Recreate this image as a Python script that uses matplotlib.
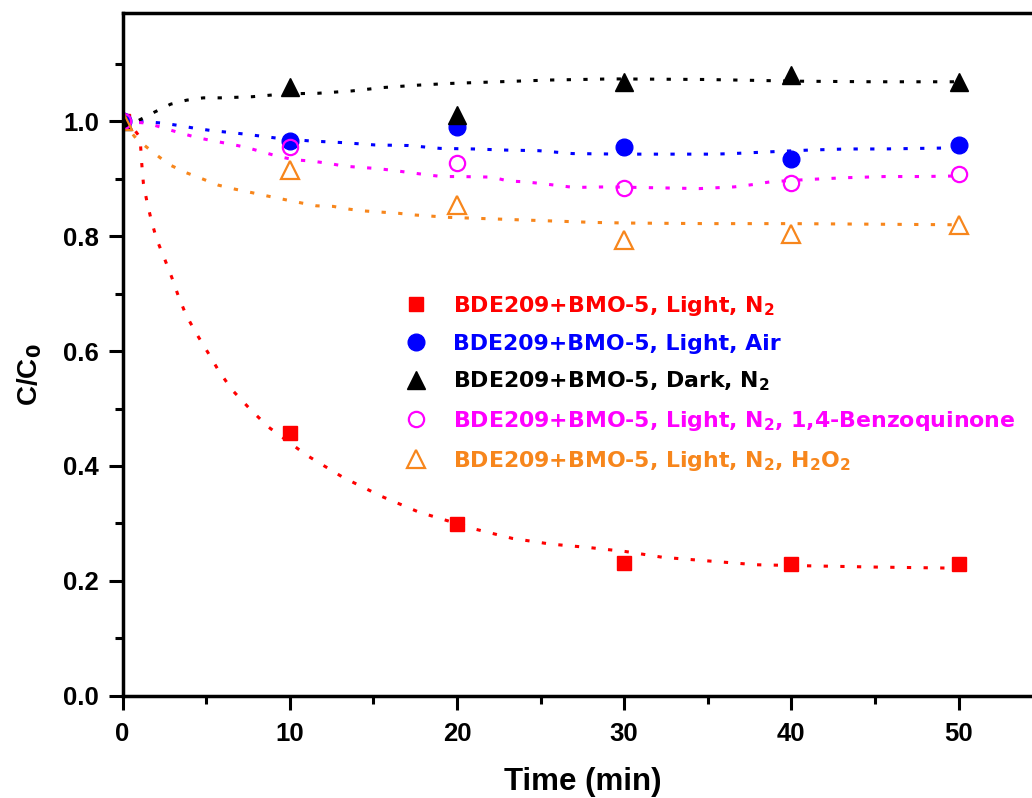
import matplotlib
matplotlib.use('Agg')
import matplotlib.pyplot as plt
from matplotlib.ticker import MultipleLocator

# ---------------- data ----------------
time_min = [0, 10, 20, 30, 40, 50]
light_n2 = [1.0, 0.457, 0.299, 0.231, 0.229, 0.229]
light_air = [1.0, 0.966, 0.991, 0.956, 0.934, 0.959]
dark_n2 = [1.0, 1.060, 1.011, 1.068, 1.081, 1.069]
light_n2_bq = [1.0, 0.955, 0.927, 0.884, 0.892, 0.908]
light_n2_h2o2 = [1.0, 0.916, 0.855, 0.793, 0.804, 0.820]

# fitted (dotted) curves
fit_t_light_n2 = [0, 0.6, 1.05, 1.15, 1.25, 1.45, 1.72, 2.04, 2.5, 2.94, 3.34, 3.8, 4.41, 5.1, 5.77,
                  6.57, 7.63, 8.72, 11.0, 13.2, 15.5, 17.7, 21.1, 23.3, 25.6, 27.9, 30.1, 32.3,
                  37.9, 41.3, 45.0, 50.0]
fit_v_light_n2 = [1.0, 0.99, 0.972, 0.927, 0.892, 0.862, 0.828, 0.795, 0.762, 0.729, 0.696, 0.663,
                  0.631, 0.598, 0.565, 0.532, 0.499, 0.468, 0.419, 0.380, 0.347, 0.320, 0.290,
                  0.274, 0.264, 0.258, 0.251, 0.241, 0.228, 0.226, 0.224, 0.222]

fit_t_dark_n2 = [0, 0.85, 1.9, 2.88, 3.84, 4.83, 5.83, 6.83, 7.76, 9.76, 11.7, 13.7, 15.6, 17.6,
                 19.5, 21.5, 23.5, 25.5, 27.4, 29.3, 34.8, 40.5, 45.0, 50.0]
fit_v_dark_n2 = [0.998, 1.0, 1.016, 1.030, 1.037, 1.041, 1.041, 1.042, 1.043, 1.048, 1.049, 1.053,
                 1.059, 1.063, 1.066, 1.068, 1.070, 1.072, 1.073, 1.074, 1.073, 1.070, 1.069, 1.069]

fit_t_light_air = [0, 1.4, 2.4, 3.34, 4.34, 5.33, 6.33, 7.28, 9.2, 11.2, 13.2, 15.1, 17.1, 19.0,
                   21.0, 23.0, 24.9, 26.9, 29.9, 35.4, 36.5, 38.7, 41.0, 43.3, 45.5, 47.7, 50.0]
fit_v_light_air = [1.0, 0.9995, 0.997, 0.993, 0.988, 0.984, 0.981, 0.978, 0.971, 0.966, 0.963,
                   0.959, 0.958, 0.953, 0.952, 0.950, 0.949, 0.944, 0.943, 0.943, 0.944, 0.947,
                   0.950, 0.952, 0.952, 0.953, 0.954]

fit_t_light_n2_bq = [0, 1.5, 2.5, 3.44, 4.44, 5.43, 6.37, 7.37, 9.32, 10.3, 11.3, 12.3, 13.3, 14.2,
                     15.2, 16.1, 18.2, 19.1, 20.1, 22.1, 23.1, 24.0, 25.0, 27.0, 29.0, 34.5, 36.6,
                     37.7, 38.8, 41.1, 43.3, 45.6, 47.8, 50.0]
fit_v_light_n2_bq = [1.0, 0.997, 0.988, 0.980, 0.972, 0.966, 0.961, 0.955, 0.939, 0.933, 0.931,
                     0.927, 0.922, 0.920, 0.918, 0.915, 0.907, 0.904, 0.904, 0.903, 0.896, 0.895,
                     0.892, 0.885, 0.886, 0.883, 0.886, 0.890, 0.895, 0.899, 0.902, 0.904, 0.904,
                     0.905]

fit_t_light_n2_h2o2 = [0, 0.85, 1.84, 2.78, 3.78, 4.77, 5.73, 6.73, 7.73, 8.68, 9.68, 10.7, 11.6,
                       12.6, 13.6, 14.5, 15.5, 16.5, 17.5, 18.5, 19.4, 20.4, 22.4, 24.3, 26.3,
                       28.3, 30.3, 35.0, 40.0, 45.0, 50.0]
fit_v_light_n2_h2o2 = [1.0, 0.969, 0.946, 0.925, 0.911, 0.900, 0.889, 0.882, 0.876, 0.870, 0.864,
                       0.858, 0.853, 0.852, 0.847, 0.844, 0.842, 0.840, 0.837, 0.835, 0.833, 0.832,
                       0.830, 0.828, 0.826, 0.824, 0.823, 0.822, 0.822, 0.821, 0.820]

labels = [
    r'BDE209+BMO-5, Light, N$_2$',
    r'BDE209+BMO-5, Light, Air',
    r'BDE209+BMO-5, Dark, N$_2$',
    r'BDE209+BMO-5, Light, N$_2$, 1,4-Benzoquinone',
    r'BDE209+BMO-5, Light, N$_2$, H$_2$O$_2$',
]
xticks = [0, 10, 20, 30, 40, 50]
yticks = [0.0, 0.2, 0.4, 0.6, 0.8, 1.0]

# ---------------- style ----------------
plt.rcParams['font.family'] = ['Liberation Sans', 'DejaVu Sans']
plt.rcParams['font.weight'] = 'bold'
plt.rcParams['mathtext.fontset'] = 'custom'
plt.rcParams['mathtext.rm'] = 'DejaVu Sans:bold'
plt.rcParams['mathtext.bf'] = 'DejaVu Sans:bold'
plt.rcParams['mathtext.it'] = 'DejaVu Sans:bold'
plt.rcParams['mathtext.default'] = 'bf'

RED = '#FF0000'
BLUE = '#0000FF'
BLACK = '#000000'
MAGENTA = '#FF00FF'
ORANGE = '#F7861C'
dot = (0, (1.4, 4.05))

W, H = 1032, 798
fig = plt.figure(figsize=(W / 100, H / 100), dpi=100)
x0, y0 = 122.5, 695.7
px_per_x = 16.72
xmax = 55.0
ax = fig.add_axes([x0 / W, 1 - y0 / H, xmax * px_per_x / W, (y0 - 13) / H])

lw = 2.2
ax.plot(fit_t_light_n2, fit_v_light_n2, color=RED, lw=lw, ls=dot)
ax.plot(fit_t_light_air, fit_v_light_air, color=BLUE, lw=lw, ls=dot)
ax.plot(fit_t_dark_n2, fit_v_dark_n2, color=BLACK, lw=lw, ls=dot)
ax.plot(fit_t_light_n2_bq, fit_v_light_n2_bq, color=MAGENTA, lw=lw, ls=dot)
ax.plot(fit_t_light_n2_h2o2, fit_v_light_n2_h2o2, color=ORANGE, lw=lw, ls=dot)

h1, = ax.plot(time_min, light_n2, ls='none', marker='s', ms=10, color=RED, label=labels[0])
h2, = ax.plot(time_min, light_air, ls='none', marker='o', ms=12, color=BLUE, label=labels[1])
h3, = ax.plot(time_min, dark_n2, ls='none', marker='^', ms=13.5, color=BLACK, label=labels[2])
h4, = ax.plot(time_min, light_n2_bq, ls='none', marker='o', ms=11, mfc='none', mew=1.6,
              color=MAGENTA, label=labels[3])
h5, = ax.plot(time_min, light_n2_h2o2, ls='none', marker='^', ms=13, mfc='none', mew=1.6,
              color=ORANGE, label=labels[4])

ax.set_xlim(0, xmax)
ax.set_ylim(0, (y0 - 13) / 574.3)
ax.set_xticks(xticks)
ax.set_yticks(yticks)
ax.set_yticklabels([f'{v:.1f}' for v in yticks])
ax.xaxis.set_minor_locator(MultipleLocator(5))
ax.yaxis.set_minor_locator(MultipleLocator(0.1))

for s in ax.spines.values():
    s.set_linewidth(2.5)
ax.tick_params(which='both', direction='out', top=False, right=False, width=2.2)
ax.tick_params(which='major', length=10, labelsize=18.5)
ax.tick_params(axis='x', which='major', pad=9)
ax.tick_params(axis='y', which='major', pad=7)
ax.tick_params(which='minor', length=6)
for t in ax.get_xticklabels() + ax.get_yticklabels():
    t.set_fontweight('bold')

ax.set_xlabel('Time (min)', fontsize=22.5, fontweight='bold')
ax.set_ylabel(r'C/C$_0$', fontsize=20, fontweight='bold')
ax.xaxis.set_label_coords(0.5, -0.104)
ax.yaxis.set_label_coords(-0.085, 0.47)

leg = ax.legend(handles=[h1, h2, h3, h4, h5], loc='upper left',
                bbox_to_anchor=(403 / W, 1 - 294 / H), bbox_transform=fig.transFigure,
                frameon=False, borderpad=0, borderaxespad=0, handlelength=1.2,
                handletextpad=1.1, labelspacing=0.72,
                prop={'family': 'DejaVu Sans', 'weight': 'bold', 'size': 15.8},
                labelcolor=[RED, BLUE, BLACK, MAGENTA, ORANGE])

fig.savefig('out.png', dpi=100)
